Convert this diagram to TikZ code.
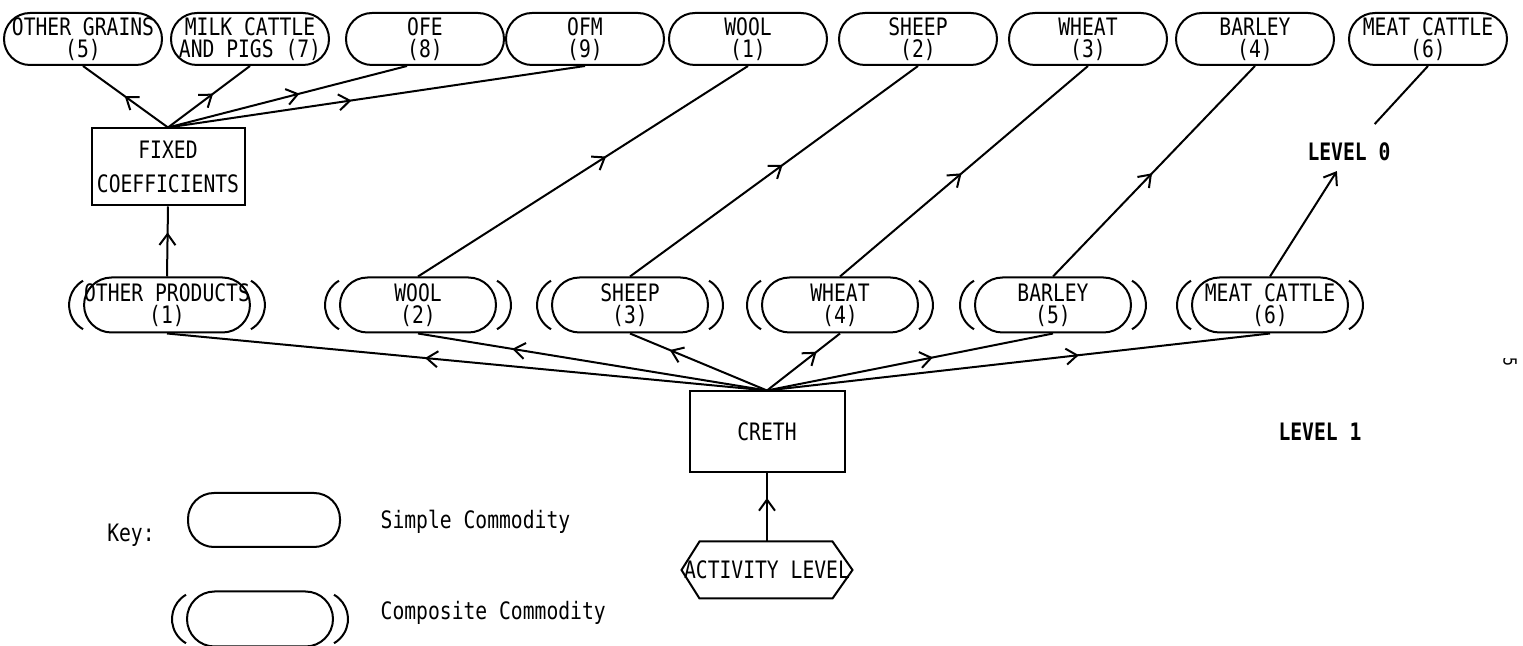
\documentclass[tikz,border=0pt]{standalone}
\usepackage{fontspec}
\usetikzlibrary{arrows.meta, decorations.markings, calc}
\newfontfamily\labfont[FakeStretch=0.82]{DejaVu Sans Mono}
\newcommand\diagfont{\labfont\fontsize{12pt}{11pt}\selectfont}
\tikzset{
  simple/.style={draw, rounded corners=13pt, minimum width=79pt, minimum height=26pt, inner xsep=0pt, inner ysep=0pt, align=center, font=\diagfont},
  composite/.style={simple, rounded corners=13.75pt, minimum width=78pt, minimum height=27.5pt},
  procbox/.style={draw, align=center, font=\diagfont, inner sep=0pt},
  levellab/.style={font=\diagfont\bfseries, inner xsep=2pt, inner ysep=4.5pt},
  midarrow/.style={postaction={decorate}, decoration={markings, mark=at position #1 with {\arrow{Straight Barb[length=5.5pt,width=8pt]}}}}
}
\begin{document}
\begin{tikzpicture}[x=0.5pt, y=-0.5pt, line width=1pt]
\useasboundingbox (0,0) rectangle (1523,646);
% level 0
\node[simple] (og) at (83,39) {OTHER GRAINS\\(5)};
\node[simple] (mp) at (250,39) {MILK CATTLE\\AND PIGS (7)};
\node[simple] (ofe) at (425,39) {OFE\\(8)};
\node[simple] (ofm) at (585,39) {OFM\\(9)};
\node[simple] (woolA) at (748,39) {WOOL\\(1)};
\node[simple] (sheepA) at (918,39) {SHEEP\\(2)};
\node[simple] (wheatA) at (1088,39) {WHEAT\\(3)};
\node[simple] (barleyA) at (1255,39) {BARLEY\\(4)};
\node[simple] (meatA) at (1428,39) {MEAT CATTLE\\(6)};
\node[procbox, minimum width=76.5pt, minimum height=38.5pt] (fixed) at (168,167) {FIXED\\[6pt]COEFFICIENTS};
\node[levellab] (lev0) at (1349,152) {LEVEL 0};
% level 1
\node[composite] (op) at (167,305) {OTHER PRODUCTS\\(1)};
\node[composite] (woolB) at (418,305) {WOOL\\(2)};
\node[composite] (sheepB) at (630,305) {SHEEP\\(3)};
\node[composite] (wheatB) at (840,305) {WHEAT\\(4)};
\node[composite] (barleyB) at (1053,305) {BARLEY\\(5)};
\node[composite] (meatB) at (1270,305) {MEAT CATTLE\\(6)};
\node[procbox, minimum width=77.5pt, minimum height=40.5pt] (creth) at (767,432) {CRETH};
\node[levellab] (lev1) at (1320,432) {LEVEL 1};
\node[font=\diagfont, minimum width=84.5pt, minimum height=27.5pt, inner sep=0pt] (act) at (767,570) {ACTIVITY LEVEL};
\draw (act.west) -- ([xshift=9pt]act.north west) -- ([xshift=-10pt]act.north east) -- (act.east)
  -- ([xshift=-10pt]act.south east) -- ([xshift=9pt]act.south west) -- cycle;
% key
\node[font=\diagfont] (keylab) at (131,535) {Key:};
\node[simple, minimum width=76pt, minimum height=27pt] (keyS) at (264,520) {};
\node[font=\diagfont, anchor=west] (keyStxt) at (373,522) {Simple Commodity};
\node[composite, minimum width=73pt] (keyC) at (260,619) {};
\node[font=\diagfont, anchor=west] (keyCtxt) at (373,613) {Composite Commodity};
\node[font=\labfont\small, rotate=-90, inner sep=1pt] (pg) at (1510,362) {5};
\foreach \c in {op,woolB,sheepB,wheatB,barleyB,meatB,keyC}{
  \draw ($(\c.west)+(7pt,0pt)+(120:14pt)$) arc[start angle=120, end angle=240, radius=14pt];
  \draw ($(\c.east)+(-7pt,0pt)+(60:14pt)$) arc[start angle=60, end angle=-60, radius=14pt];
}
\draw[midarrow=0.51] (fixed.north) -- (og.south);
\draw[midarrow=0.55] (fixed.north) -- (mp.south);
\draw[midarrow=0.55] (fixed.north) -- ([xshift=-9pt]ofe.south);
\draw[midarrow=0.44] (fixed.north) -- (ofm.south);
\draw[midarrow=0.63] (op.north) -- (fixed.south);
\draw[midarrow=0.57] (woolB.north) -- (woolA.south);
\draw[midarrow=0.53] (sheepB.north) -- (sheepA.south);
\draw[midarrow=0.49] (wheatB.north) -- (wheatA.south);
\draw[midarrow=0.49] (barleyB.north) -- (barleyA.south);
\draw[-{Straight Barb[length=5.5pt,width=8pt]}] (meatB.north) -- (lev0);
\draw[shorten <=6pt] (lev0) -- (meatA.south);
\draw[midarrow=0.57] (creth.north) -- (op.south);
\draw[midarrow=0.73] (creth.north) -- (woolB.south);
\draw[midarrow=0.71] (creth.north) -- (sheepB.south);
\draw[midarrow=0.68] (creth.north) -- (wheatB.south);
\draw[midarrow=0.58] (creth.north) -- (barleyB.south);
\draw[midarrow=0.62] (creth.north) -- (meatB.south);
\draw[midarrow=0.64] (act.north) -- (creth.south);
\end{tikzpicture}
\end{document}
